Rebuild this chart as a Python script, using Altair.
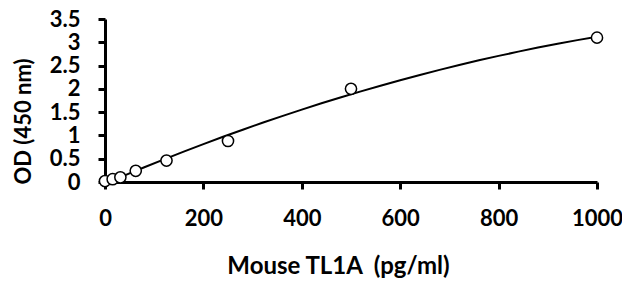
import altair as alt
import pandas as pd

conc = [0, 15.6, 31.25, 62.5, 125, 250, 500, 1000]
od = [0.02, 0.06, 0.10, 0.24, 0.46, 0.88, 2.00, 3.10]
x_ticks = [0, 200, 400, 600, 800, 1000]
y_ticks = [0, 0.5, 1, 1.5, 2, 2.5, 3, 3.5]

df = pd.DataFrame({"conc": conc, "od": od})
FONT = "Lato"

x_enc = alt.X("conc:Q", scale=alt.Scale(domain=[0, 1000], nice=False),
              axis=alt.Axis(values=x_ticks, format="d", title="Mouse TL1A\u00a0 (pg/ml)", grid=False,
                            labelOverlap=False, labelFlush=False, labelPadding=19,
                            titleFontSize=24,
                            titleX=233, titleY=91, titleBaseline="alphabetic", titleAnchor="middle"))
y_enc = alt.Y("od:Q", scale=alt.Scale(domain=[0, 3.5], nice=False),
              axis=alt.Axis(values=y_ticks, format="~g", title="OD (450 nm)", grid=False,
                            labelOverlap=False, labelFlush=False, labelPadding=18,
                            titleFontSize=22,
                            titleX=-70, titleY=102, titleAngle=270))

base = alt.Chart(df)
curve = base.transform_regression("conc", "od", method="poly", order=2, extent=[0, 1000]).mark_line(
    color="black", strokeWidth=2).encode(x=x_enc, y=y_enc)
pts = base.mark_point(shape="circle", filled=True, fill="white", stroke="black",
                      strokeWidth=1.5, size=125, opacity=1).encode(x=x_enc, y=y_enc)

chart = (curve + pts).properties(
    width=492, height=163,
    autosize=alt.AutoSizeParams(type="none"),
    padding={"left": 97, "top": 11, "right": 25, "bottom": 100},
).configure_view(stroke=None).configure_axis(
    domainColor="black", domainWidth=3, tickColor="black", tickWidth=3, tickSize=7,
    labelFont=FONT, labelFontSize=22, labelFontWeight="bold", labelColor="black",
    titleFont=FONT, titleFontWeight="bold", titleColor="black",
)

chart.save("out.html", embed_options={"renderer": "svg", "actions": False})
